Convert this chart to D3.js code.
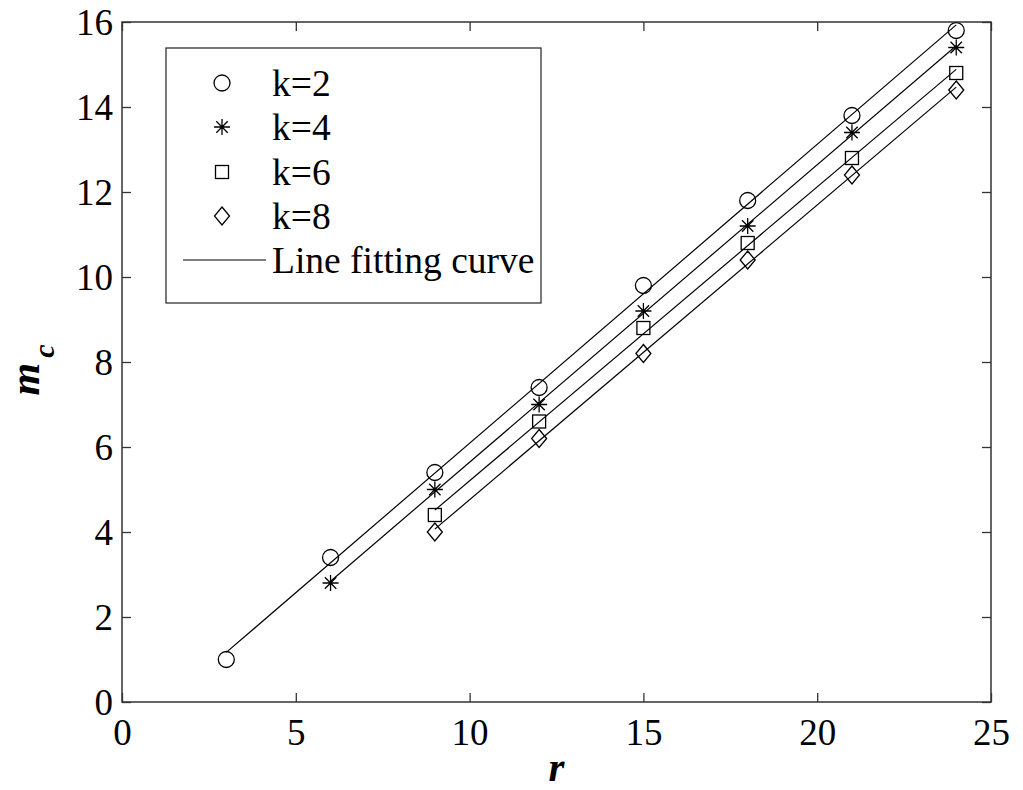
<!DOCTYPE html>
<html><head><meta charset="utf-8">
<script src="https://cdn.jsdelivr.net/npm/d3@7"></script>
<style>body{margin:0;background:#fff}</style>
</head><body>
<script>
// ---- data ----
const seriesNames = ["k=2", "k=4", "k=6", "k=8"];
const markerTypes = ["circle", "star", "square", "diamond"];
const rK2 = [3, 6, 9, 12, 15, 18, 21, 24];
const mK2 = [1.0, 3.4, 5.4, 7.4, 9.8, 11.8, 13.8, 15.8];
const rK4 = [6, 9, 12, 15, 18, 21, 24];
const mK4 = [2.8, 5.0, 7.0, 9.2, 11.2, 13.4, 15.4];
const rK6 = [9, 12, 15, 18, 21, 24];
const mK6 = [4.4, 6.6, 8.8, 10.8, 12.8, 14.8];
const rK8 = [9, 12, 15, 18, 21, 24];
const mK8 = [4.0, 6.2, 8.2, 10.4, 12.4, 14.4];
const xTicks = [0, 5, 10, 15, 20, 25];
const yTicks = [0, 2, 4, 6, 8, 10, 12, 14, 16];
const fitLabel = "Line fitting curve";

const series = [
  {name: seriesNames[0], marker: markerTypes[0], r: rK2, m: mK2},
  {name: seriesNames[1], marker: markerTypes[1], r: rK4, m: mK4},
  {name: seriesNames[2], marker: markerTypes[2], r: rK6, m: mK6},
  {name: seriesNames[3], marker: markerTypes[3], r: rK8, m: mK8}
];

const W = 1023, H = 790;
const L = 122, R = 991, T = 22, B = 702;
const FONT = "'Liberation Serif','Times New Roman',serif";
const BOX = "#333";
const FS = 37;
const LFS = 37.5;

const svg = d3.select("body").append("svg").attr("width", W).attr("height", H)
  .style("font-family", FONT);

const x = d3.scaleLinear().domain([0, 25]).range([L, R]);
const y = d3.scaleLinear().domain([0, 16]).range([B, T]);

// linear least-squares fit
function fit(rs, ms) {
  const n = rs.length, mr = d3.mean(rs), mm = d3.mean(ms);
  let sxy = 0, sxx = 0;
  for (let i = 0; i < n; i++) { sxy += (rs[i]-mr)*(ms[i]-mm); sxx += (rs[i]-mr)**2; }
  const b = sxy / sxx, a = mm - b*mr;
  return [[rs[0], a + b*rs[0]], [rs[n-1], a + b*rs[n-1]]];
}

// fit lines
const line = d3.line().x(d => x(d[0])).y(d => y(d[1]));
series.forEach(s => {
  svg.append("path").attr("d", line(fit(s.r, s.m)))
    .attr("fill", "none").attr("stroke", "#000").attr("stroke-width", 1.2);
});

// markers
function drawMarker(g, type, cx, cy) {
  if (type === "circle") {
    g.append("circle").attr("cx", cx).attr("cy", cy).attr("r", 8)
      .attr("fill", "none").attr("stroke", "#000").attr("stroke-width", 1.3);
  } else if (type === "square") {
    g.append("rect").attr("x", cx-6.5).attr("y", cy-6.5).attr("width", 13).attr("height", 13)
      .attr("fill", "none").attr("stroke", "#000").attr("stroke-width", 1.3);
  } else if (type === "diamond") {
    g.append("path").attr("d", `M${cx},${cy-9}L${cx+7.5},${cy}L${cx},${cy+9}L${cx-7.5},${cy}Z`)
      .attr("fill", "none").attr("stroke", "#000").attr("stroke-width", 1.3);
  } else if (type === "star") {
    const a = 8, d = 5.7;
    g.append("path").attr("d",
      `M${cx-a},${cy}L${cx+a},${cy}M${cx},${cy-a}L${cx},${cy+a}` +
      `M${cx-d},${cy-d}L${cx+d},${cy+d}M${cx-d},${cy+d}L${cx+d},${cy-d}`)
      .attr("fill", "none").attr("stroke", "#000").attr("stroke-width", 1.3);
  }
}
series.forEach(s => {
  const g = svg.append("g");
  s.r.forEach((rv, i) => drawMarker(g, s.marker, x(rv), y(s.m[i])));
});

// axes box
svg.append("rect").attr("x", L).attr("y", T).attr("width", R-L).attr("height", B-T)
  .attr("fill", "none").attr("stroke", BOX).attr("stroke-width", 1.5);

const tickLen = 9;
const xb = svg.append("g").attr("transform", `translate(0,${B})`)
  .call(d3.axisBottom(x).tickValues(xTicks).tickSizeInner(-tickLen).tickSizeOuter(0).tickPadding(17));
const xt = svg.append("g").attr("transform", `translate(0,${T})`)
  .call(d3.axisTop(x).tickValues(xTicks).tickSizeInner(-tickLen).tickSizeOuter(0).tickFormat(""));
const yl = svg.append("g").attr("transform", `translate(${L},0)`)
  .call(d3.axisLeft(y).tickValues(yTicks).tickSizeInner(-tickLen).tickSizeOuter(0).tickPadding(9));
const yr = svg.append("g").attr("transform", `translate(${R},0)`)
  .call(d3.axisRight(y).tickValues(yTicks).tickSizeInner(-tickLen).tickSizeOuter(0).tickFormat(""));
[xb, xt, yl, yr].forEach(g => {
  g.select(".domain").remove();
  g.selectAll(".tick line").attr("stroke", BOX).attr("stroke-width", 1.3);
  g.selectAll(".tick text").attr("font-family", FONT).attr("font-size", FS).attr("fill", "#000");
});
xb.selectAll(".tick text").attr("dy", "0.71em");
yl.selectAll(".tick text").attr("dy", "0.34em");

// axis labels
svg.append("text").attr("x", (L+R)/2).attr("y", 781).attr("text-anchor", "middle")
  .attr("font-size", 41).attr("font-weight", "bold").attr("font-style", "italic").text("r");
const yLab = svg.append("text").attr("transform", `translate(39,${(T+B)/2 + 8}) rotate(-90)`)
  .attr("text-anchor", "middle").attr("font-size", 42).attr("font-weight", "bold").attr("font-style", "italic");
yLab.append("tspan").text("m");
yLab.append("tspan").attr("font-size", 30).attr("dy", 15).attr("dx", 5).text("c");

// legend
const lg = svg.append("g");
lg.append("rect").attr("x", 166).attr("y", 48).attr("width", 375).attr("height", 255)
  .attr("fill", "#fff").attr("stroke", BOX).attr("stroke-width", 1.3);
const rowY = [83, 127, 172, 216, 260];
series.forEach((s, i) => {
  drawMarker(lg, s.marker, 222, rowY[i]);
  lg.append("text").attr("x", 272).attr("y", rowY[i]).attr("dy", "0.35em")
    .attr("font-size", LFS).text(s.name);
});
lg.append("line").attr("x1", 183).attr("x2", 266).attr("y1", rowY[4]).attr("y2", rowY[4])
  .attr("stroke", "#000").attr("stroke-width", 1.2);
lg.append("text").attr("x", 272).attr("y", rowY[4]).attr("dy", "0.35em")
  .attr("font-size", LFS).text(fitLabel);
</script>
</body></html>
